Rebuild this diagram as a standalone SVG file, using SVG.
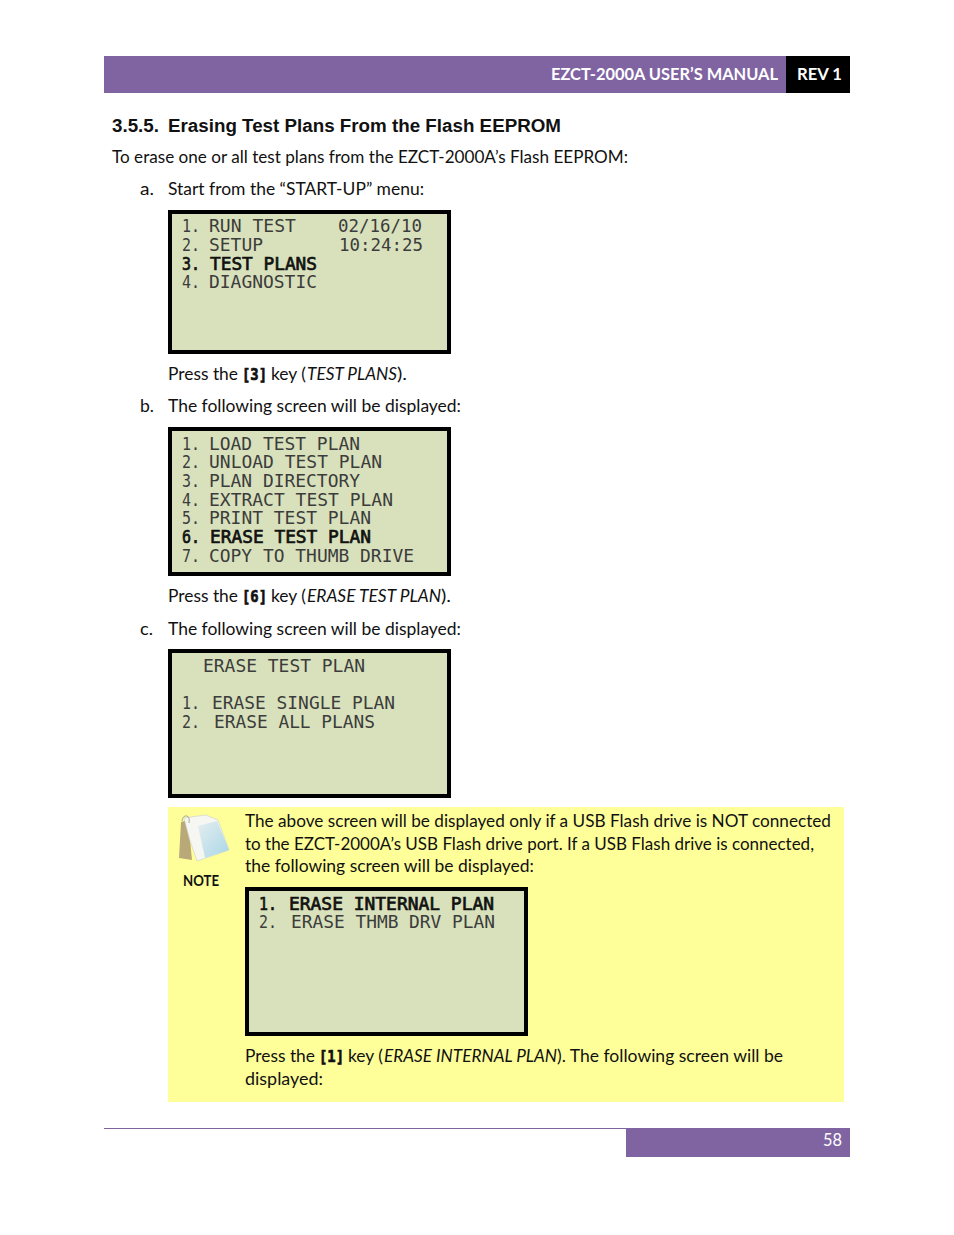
<svg xmlns="http://www.w3.org/2000/svg" width="954" height="1235" viewBox="0 0 954 1235">
<defs>
<linearGradient id="pg" x1="0" y1="0" x2="1" y2="1"><stop offset="0" stop-color="#e4eef0"/><stop offset="1" stop-color="#a9d6e6"/></linearGradient>
</defs>
<style>
text{white-space:pre}
.b{font-family:"Lato","Carlito","Open Sans",sans-serif;font-size:17.3px;fill:#111}
.i{font-style:italic}
.h{font-family:"Liberation Sans",Arial,sans-serif;font-size:18px;font-weight:700;fill:#111}
.w{font-family:"Lato",sans-serif;font-size:17.6px;font-weight:700;fill:#fff}
.l{font-family:"DejaVu Sans Mono","Liberation Mono",monospace;font-size:18px;fill:#3c3c3c}
.lb{font-family:"DejaVu Sans Mono","Liberation Mono",monospace;font-size:18px;fill:#111;stroke:#111;stroke-width:.7}
.k{font-family:"DejaVu Sans Mono","Liberation Mono",monospace;font-size:16px;font-weight:700;fill:#111;stroke:#111;stroke-width:.7}
.s{fill:#d8e1bb;stroke:#000;stroke-width:4}
</style>
<g id="header">
<rect x="104" y="56" width="682" height="37" fill="#8064a2"/>
<rect x="786" y="56" width="64" height="37" fill="#000"/>
<text class="w" x="551" y="80" textLength="227" lengthAdjust="spacingAndGlyphs">EZCT-2000A USER’S MANUAL</text>
<text class="w" x="797" y="80" textLength="45" lengthAdjust="spacingAndGlyphs">REV 1</text>
</g>
<g id="intro">
<text class="h" x="112" y="132" textLength="47" lengthAdjust="spacingAndGlyphs">3.5.5.</text>
<text class="h" x="168" y="132" textLength="393" lengthAdjust="spacingAndGlyphs">Erasing Test Plans From the Flash EEPROM</text>
<text class="b" x="112" y="163" textLength="516" lengthAdjust="spacingAndGlyphs">To erase one or all test plans from the EZCT-2000A’s Flash EEPROM:</text>
<text class="b" x="140" y="195" textLength="14" lengthAdjust="spacingAndGlyphs">a.</text>
<text class="b" x="168" y="195" textLength="256" lengthAdjust="spacingAndGlyphs">Start from the “START-UP” menu:</text>
</g>
<g id="screen-a">
<rect class="s" x="170" y="212" width="279" height="140"/>
<text class="l" x="182" y="232" textLength="18" lengthAdjust="spacingAndGlyphs">1.</text>
<text class="l" x="209" y="232" textLength="87" lengthAdjust="spacingAndGlyphs">RUN TEST</text>
<text class="l" x="338" y="232" textLength="84" lengthAdjust="spacingAndGlyphs">02/16/10</text>
<text class="l" x="182" y="251" textLength="18" lengthAdjust="spacingAndGlyphs">2.</text>
<text class="l" x="209" y="251" textLength="54" lengthAdjust="spacingAndGlyphs">SETUP</text>
<text class="l" x="339" y="251" textLength="84" lengthAdjust="spacingAndGlyphs">10:24:25</text>
<text class="lb" x="182" y="270" textLength="18" lengthAdjust="spacingAndGlyphs">3.</text>
<text class="lb" x="210" y="270" textLength="107" lengthAdjust="spacingAndGlyphs">TEST PLANS</text>
<text class="l" x="182" y="288" textLength="18" lengthAdjust="spacingAndGlyphs">4.</text>
<text class="l" x="209" y="288" textLength="108" lengthAdjust="spacingAndGlyphs">DIAGNOSTIC</text>
</g>
<g id="step-a-note">
<text class="b" x="168" y="380" textLength="70" lengthAdjust="spacingAndGlyphs">Press the</text>
<text class="k" x="242" y="380" textLength="25" lengthAdjust="spacingAndGlyphs">[3]</text>
<text class="b" x="271" y="380" textLength="35" lengthAdjust="spacingAndGlyphs">key (</text>
<text class="b i" x="307" y="380" textLength="90" lengthAdjust="spacingAndGlyphs">TEST PLANS</text>
<text class="b" x="397" y="380" textLength="10" lengthAdjust="spacingAndGlyphs">).</text>
<text class="b" x="140" y="412" textLength="14" lengthAdjust="spacingAndGlyphs">b.</text>
<text class="b" x="168" y="412" textLength="293" lengthAdjust="spacingAndGlyphs">The following screen will be displayed:</text>
</g>
<g id="screen-b">
<rect class="s" x="170" y="429" width="279" height="145"/>
<text class="l" x="182" y="450" textLength="18" lengthAdjust="spacingAndGlyphs">1.</text>
<text class="l" x="209" y="450" textLength="151" lengthAdjust="spacingAndGlyphs">LOAD TEST PLAN</text>
<text class="l" x="182" y="468" textLength="18" lengthAdjust="spacingAndGlyphs">2.</text>
<text class="l" x="209" y="468" textLength="173" lengthAdjust="spacingAndGlyphs">UNLOAD TEST PLAN</text>
<text class="l" x="182" y="487" textLength="18" lengthAdjust="spacingAndGlyphs">3.</text>
<text class="l" x="209" y="487" textLength="151" lengthAdjust="spacingAndGlyphs">PLAN DIRECTORY</text>
<text class="l" x="182" y="506" textLength="18" lengthAdjust="spacingAndGlyphs">4.</text>
<text class="l" x="209" y="506" textLength="184" lengthAdjust="spacingAndGlyphs">EXTRACT TEST PLAN</text>
<text class="l" x="182" y="524" textLength="18" lengthAdjust="spacingAndGlyphs">5.</text>
<text class="l" x="209" y="524" textLength="162" lengthAdjust="spacingAndGlyphs">PRINT TEST PLAN</text>
<text class="lb" x="182" y="543" textLength="18" lengthAdjust="spacingAndGlyphs">6.</text>
<text class="lb" x="210" y="543" textLength="161" lengthAdjust="spacingAndGlyphs">ERASE TEST PLAN</text>
<text class="l" x="182" y="562" textLength="18" lengthAdjust="spacingAndGlyphs">7.</text>
<text class="l" x="209" y="562" textLength="205" lengthAdjust="spacingAndGlyphs">COPY TO THUMB DRIVE</text>
</g>
<g id="step-b-note">
<text class="b" x="168" y="602" textLength="70" lengthAdjust="spacingAndGlyphs">Press the</text>
<text class="k" x="242" y="602" textLength="25" lengthAdjust="spacingAndGlyphs">[6]</text>
<text class="b" x="271" y="602" textLength="35" lengthAdjust="spacingAndGlyphs">key (</text>
<text class="b i" x="307" y="602" textLength="134" lengthAdjust="spacingAndGlyphs">ERASE TEST PLAN</text>
<text class="b" x="441" y="602" textLength="10" lengthAdjust="spacingAndGlyphs">).</text>
<text class="b" x="140" y="635" textLength="13" lengthAdjust="spacingAndGlyphs">c.</text>
<text class="b" x="168" y="635" textLength="293" lengthAdjust="spacingAndGlyphs">The following screen will be displayed:</text>
</g>
<g id="screen-c">
<rect class="s" x="170" y="651" width="279" height="145"/>
<text class="l" x="203" y="672" textLength="162" lengthAdjust="spacingAndGlyphs">ERASE TEST PLAN</text>
<text class="l" x="182" y="709" textLength="18" lengthAdjust="spacingAndGlyphs">1.</text>
<text class="l" x="212" y="709" textLength="183" lengthAdjust="spacingAndGlyphs">ERASE SINGLE PLAN</text>
<text class="l" x="182" y="728" textLength="18" lengthAdjust="spacingAndGlyphs">2.</text>
<text class="l" x="214" y="728" textLength="161" lengthAdjust="spacingAndGlyphs">ERASE ALL PLANS</text>
</g>
<g id="note">
<rect x="168" y="807" width="676" height="295" fill="#ffff99"/>
<g id="note-icon">
<path d="M181 822 L179 858 L192 860 L188 820Z" fill="#b9a878"/>
<path d="M184 818 Q196 816 206 815 L218 820 L229 850 L197 861 Q189 840 184 818Z" fill="#f6f7f2" stroke="#d0d4ca" stroke-width=".7"/>
<path d="M198 826 L217 821 L229 850 L205 858 Z" fill="url(#pg)"/>
<path d="M182 821 q1 -6 5 -5 q3 1 2 7" fill="none" stroke="#a8a8a0" stroke-width="1"/>
</g>
<text x="183" y="886" font-family="Lato,sans-serif" font-size="14.5" font-weight="700" fill="#111" textLength="36" lengthAdjust="spacingAndGlyphs">NOTE</text>
<text class="b" x="245" y="827" textLength="586" lengthAdjust="spacingAndGlyphs">The above screen will be displayed only if a USB Flash drive is NOT connected</text>
<text class="b" x="245" y="850" textLength="569" lengthAdjust="spacingAndGlyphs">to the EZCT-2000A’s USB Flash drive port. If a USB Flash drive is connected,</text>
<text class="b" x="245" y="872" textLength="289" lengthAdjust="spacingAndGlyphs">the following screen will be displayed:</text>
</g>
<g id="screen-d">
<rect class="s" x="247" y="889" width="279" height="145"/>
<text class="lb" x="259" y="910" textLength="18" lengthAdjust="spacingAndGlyphs">1.</text>
<text class="lb" x="289" y="910" textLength="205" lengthAdjust="spacingAndGlyphs">ERASE INTERNAL PLAN</text>
<text class="l" x="259" y="928" textLength="18" lengthAdjust="spacingAndGlyphs">2.</text>
<text class="l" x="291" y="928" textLength="204" lengthAdjust="spacingAndGlyphs">ERASE THMB DRV PLAN</text>
</g>
<g id="note-end">
<text class="b" x="245" y="1062" textLength="70" lengthAdjust="spacingAndGlyphs">Press the</text>
<text class="k" x="319" y="1062" textLength="25" lengthAdjust="spacingAndGlyphs">[1]</text>
<text class="b" x="348" y="1062" textLength="35" lengthAdjust="spacingAndGlyphs">key (</text>
<text class="b i" x="384" y="1062" textLength="173" lengthAdjust="spacingAndGlyphs">ERASE INTERNAL PLAN</text>
<text class="b" x="557" y="1062" textLength="226" lengthAdjust="spacingAndGlyphs">). The following screen will be</text>
<text class="b" x="245" y="1085" textLength="78" lengthAdjust="spacingAndGlyphs">displayed:</text>
</g>
<g id="footer">
<line x1="104" y1="1128.5" x2="850" y2="1128.5" stroke="#8064a2" stroke-width="1"/>
<rect x="626" y="1129" width="224" height="28" fill="#8064a2"/>
<text x="823" y="1146" font-family="Lato,sans-serif" font-size="17" fill="#fff" textLength="19" lengthAdjust="spacingAndGlyphs">58</text>
</g>
</svg>
